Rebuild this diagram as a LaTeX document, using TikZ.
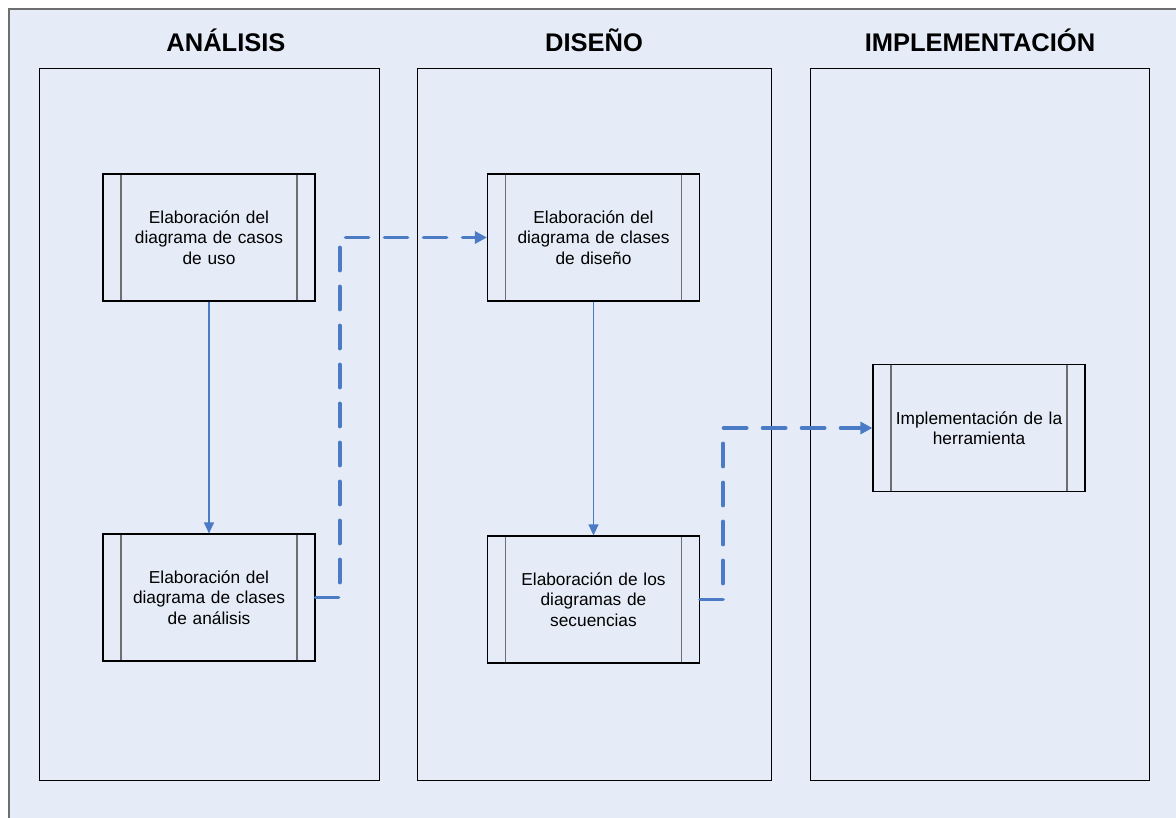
\documentclass[tikz,border=0pt]{standalone}
\usepackage{fontspec}
\setmainfont{Liberation Sans}
\usetikzlibrary{arrows.meta}

\definecolor{fondo}{HTML}{E6ECF7}
\definecolor{azul}{HTML}{4A7BC4}
\definecolor{marco}{HTML}{6E6E6E}

\tikzset{
  carril/.style={draw=black, line width=1pt, minimum width=#1, minimum height=711pt, inner sep=0pt},
  titulo/.style={font=\fontsize{25.5}{30}\selectfont\bfseries},
  proceso/.style={draw=black, line width=1.2pt, minimum width=212pt, minimum height=127pt,
    inner sep=0pt, text width=195pt, align=center, font=\fontsize{17.3}{20.5}\selectfont,
    path picture={
      \draw[marco, line width=1.5pt]
        ([xshift=18pt]path picture bounding box.north west) -- ([xshift=18pt]path picture bounding box.south west)
        ([xshift=-18pt]path picture bounding box.north east) -- ([xshift=-18pt]path picture bounding box.south east);
    }},
  enlace/.style={azul, line width=1.2pt, -{Triangle[length=11pt, width=10pt]}},
  flujo/.style={azul, line width=3.8pt, line cap=round, dash pattern=on 23pt off 16pt,
    -{Triangle[length=12pt, width=12pt]}}
}

\begin{document}
\begin{tikzpicture}[x=1pt, y=-1pt]
            \useasboundingbox (0,0) rectangle (1176,818);
            % fondo
            \fill[fondo] (9,9) rectangle (1190,830);
            \draw[marco, line width=1.5pt] (9,830) -- (9,9) -- (1190,9);
            % carriles
            \node[carril=340pt] (colA) at (209,424.5) {};
            \node[carril=354pt] (colB) at (594,424.5) {};
            \node[carril=339pt] (colC) at (979.5,424.5) {};
            \node[titulo] (tA) at (226,40) {ANÁLISIS};
            \node[titulo] (tB) at (594,40) {DISEÑO};
            \node[titulo] (tC) at (980,40) {IMPLEMENTACIÓN};
            % procesos
            \node[proceso] (casos) at (209,237.5) {Elaboración del\\diagrama de casos\\de uso};
            \node[proceso] (analisis) at (209,597.5) {Elaboración del\\diagrama de clases\\de análisis};
            \node[proceso] (diseno) at (593.5,237.5) {Elaboración del\\diagrama de clases\\de diseño};
            \node[proceso] (secuencias) at (593.5,599.5) {Elaboración de los\\diagramas de\\secuencias};
            \node[proceso] (herramienta) at (979,428) {Implementación de la\\herramienta};
            % flechas
            \draw[enlace] (casos) -- (analisis);
            \draw[enlace] (diseno) -- (secuencias);
            \draw[flujo] (analisis.east) -- ++(24,0) |- (diseno.west);
            \draw[flujo] (secuencias.east) -- ++(23,0) |- (herramienta.west);
        \end{tikzpicture}
\end{document}
